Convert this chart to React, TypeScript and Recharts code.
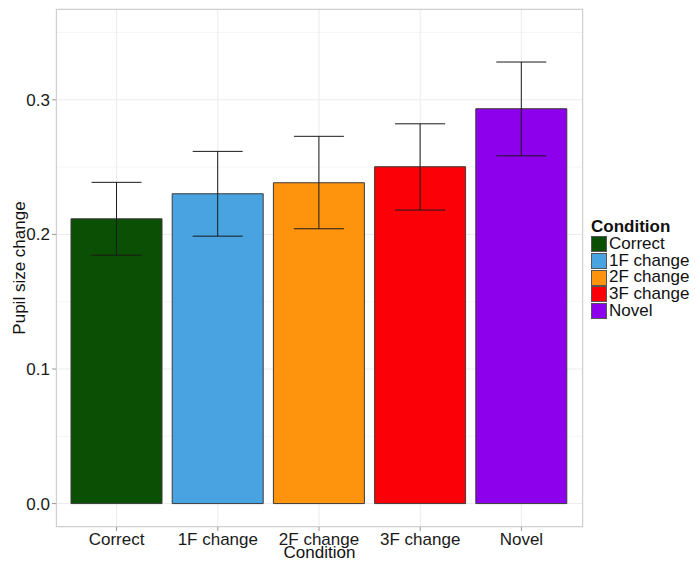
import { BarChart, Bar, XAxis, YAxis, CartesianGrid, ErrorBar, Cell } from 'recharts';

const conditions = ['Correct', '1F change', '2F change', '3F change', 'Novel'];
const meanChange = [0.2116, 0.2302, 0.2384, 0.2503, 0.2934];
const ciLower = [0.1846, 0.1987, 0.2042, 0.2181, 0.2584];
const ciUpper = [0.2387, 0.2617, 0.2729, 0.2822, 0.3281];
const barColors = ['#0b4f04', '#4aa3e1', '#fe940e', '#fc0007', '#8c00ec'];
const yTicks = [0, 0.1, 0.2, 0.3];
const yMinorTicks = [0.05, 0.15, 0.25, 0.35];
const yDomain: [number, number] = [-0.0174, 0.3675];

const FONT = '"Liberation Sans", Arial, Helvetica, sans-serif';

// table for recharts, error given as offsets from the mean
const data = conditions.map((c, i) => ({
  condition: c,
  value: meanChange[i],
  err: [meanChange[i] - ciLower[i], ciUpper[i] - meanChange[i]],
}));

function ConditionLegend() {
  return (
    <div style={{ position: 'absolute', left: 591, top: 218, fontFamily: FONT, color: '#111' }}>
      <div style={{ fontWeight: 'bold', fontSize: 17, lineHeight: '17px', marginBottom: 1 }}>Condition</div>
      {conditions.map((c, i) => (
        <div key={c} style={{ display: 'flex', alignItems: 'center', height: 16.7, fontSize: 17, lineHeight: '16.7px' }}>
          <span
            style={{
              display: 'inline-block',
              width: 14,
              height: 14,
              background: barColors[i],
              border: '1px solid #555',
              marginRight: 2,
            }}
          />
          <span>{c}</span>
        </div>
      ))}
    </div>
  );
}

export default function App() {
  return (
    <div style={{ position: 'absolute', left: 0, top: 0, width: 695, height: 563, background: '#fff' }}>
      <BarChart
        width={695}
        height={563}
        data={data}
        margin={{ top: 9, right: 112, bottom: 0, left: 0 }}
        barCategoryGap={5}
        style={{ fontFamily: FONT }}
      >
        <CartesianGrid yAxisId="minor" vertical={false} stroke="#f5f5f5" strokeWidth={1} />
        <CartesianGrid stroke="#ebebeb" strokeWidth={1} />
        <XAxis
          dataKey="condition"
          interval={0}
          height={36}
          padding={{ left: 10, right: 11 }}
          axisLine={false}
          tickSize={4}
          tickMargin={2}
          tickLine={{ stroke: '#999' }}
          tick={{ fill: '#1a1a1a', fontSize: 17 }}
          label={{ value: 'Condition', position: 'insideBottom', offset: 5, fill: '#111', fontSize: 17 }}
        />
        <YAxis
          type="number"
          domain={yDomain}
          allowDataOverflow
          ticks={yTicks}
          width={56}
          axisLine={false}
          tickSize={4}
          tickMargin={2}
          tickLine={{ stroke: '#999' }}
          tick={{ fill: '#1a1a1a', fontSize: 17 }}
          tickFormatter={(v: number) => v.toFixed(1)}
          label={{
            value: 'Pupil size change',
            angle: -90,
            position: 'insideLeft',
            offset: 19,
            fill: '#111',
            fontSize: 17,
            style: { textAnchor: 'middle' },
          }}
        />
        <YAxis yAxisId="minor" type="number" domain={yDomain} allowDataOverflow ticks={yMinorTicks} hide />
        <Bar dataKey="value" stroke="#3a3a3a" strokeWidth={1} isAnimationActive={false}>
          {data.map((d, i) => (
            <Cell key={d.condition} fill={barColors[i]} />
          ))}
          <ErrorBar dataKey="err" width={25} stroke="#1a1a1a" strokeWidth={1} direction="y" />
        </Bar>
      </BarChart>
      {/* panel border */}
      <div
        style={{
          position: 'absolute',
          left: 56,
          top: 9,
          width: 527,
          height: 518,
          boxSizing: 'border-box',
          border: '1px solid #cfcfcf',
          pointerEvents: 'none',
        }}
      />
      <ConditionLegend />
    </div>
  );
}
